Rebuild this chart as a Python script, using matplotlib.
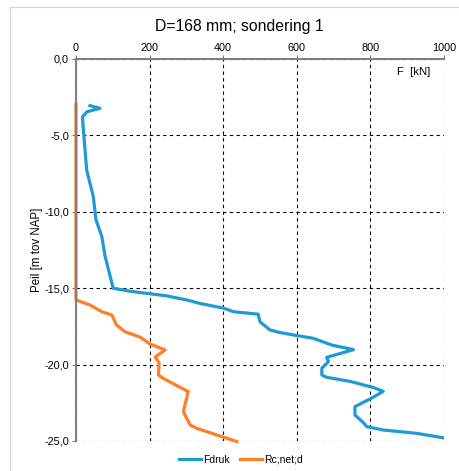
import matplotlib
matplotlib.use("Agg")
import matplotlib.pyplot as plt
from matplotlib.patches import Rectangle
from matplotlib.ticker import FuncFormatter

plt.rcParams['font.family'] = ['Liberation Sans', 'DejaVu Sans']

# Fdruk series (force kN, level m NAP)
fdruk_F = [38, 65, 30, 18, 18, 29, 47, 54, 70, 79, 101, 147, 246, 301, 337, 400, 428, 495, 500,
           527, 554, 600, 645, 695, 754, 681, 686, 668, 668, 681, 745, 808, 835, 803, 758, 758,
           781, 790, 835, 926, 1000]
fdruk_z = [-3.05, -3.23, -3.45, -3.78, -4.0, -7.27, -9.0, -10.5, -11.6, -12.9, -15.0, -15.2, -15.5,
           -15.77, -16.0, -16.3, -16.54, -16.7, -17.2, -17.73, -17.9, -18.1, -18.28, -18.72, -19.02,
           -19.53, -19.8, -20.24, -20.68, -20.83, -21.1, -21.5, -21.75, -22.2, -22.75, -23.3, -23.8,
           -24.06, -24.28, -24.5, -24.8]

# Rc;net;d series
rc_F = [0, 0, 38, 70, 97, 106, 110, 133, 174, 201, 242, 215, 226, 224, 237, 305, 296, 292, 310,
        328, 437]
rc_z = [-2.95, -15.77, -16.1, -16.54, -16.75, -17.19, -17.4, -17.85, -18.2, -18.65, -19.04,
        -19.5, -19.9, -20.68, -20.9, -21.77, -22.64, -23.08, -23.95, -24.17, -25.04]

x_ticks = [0, 200, 400, 600, 800, 1000]
y_ticks = [0, -5, -10, -15, -20, -25]

W, H = 459, 471
fig = plt.figure(figsize=(W / 100, H / 100), dpi=100)
fig.patches.append(Rectangle((10 / W, -0.1), 1.2, 1 - 7 / H + 0.1, transform=fig.transFigure,
                             fill=False, edgecolor='#d9d9d9', linewidth=1.0))

ax = fig.add_axes([76 / W, 1 - 441 / H, (444 - 76) / W, (441 - 59) / H])

blue = '#1E9BD7'
orange = '#FF7F27'
ax.plot(fdruk_F, fdruk_z, color=blue, lw=2.3, label='Fdruk', solid_joinstyle='round', clip_on=True)
ax.plot(rc_F, rc_z, color=orange, lw=2.3, label='Rc;net;d', solid_joinstyle='round', clip_on=False)

ax.set_xlim(0, 1000)
ax.set_ylim(-25, 0)
ax.xaxis.tick_top()
ax.set_xticks(x_ticks)
ax.set_yticks(y_ticks)
ax.yaxis.set_major_formatter(FuncFormatter(lambda v, p: f"{v:.1f}".replace('.', ',')))
ax.tick_params(axis='both', labelsize=7.8, length=3, color='#808080', width=0.8, pad=2)
ax.tick_params(axis='x', pad=1)

for s in ['right', 'bottom']:
    ax.spines[s].set_visible(False)
for s in ['left', 'top']:
    ax.spines[s].set_color('#808080')
    ax.spines[s].set_linewidth(1.5)

ax.grid(True, color='black', linestyle=(0, (3, 3)), linewidth=0.8)
ax.set_axisbelow(True)

ax.set_ylabel('Peil [m tov NAP]', fontsize=8.3, labelpad=1)
ax.text(0.962, 0.966, 'F  [kN]', transform=ax.transAxes, ha='right', va='center', fontsize=8.2)

fig.text(239 / W, 1 - 26 / H, 'D=168 mm; sondering 1', ha='center', va='center', fontsize=11.3)

leg = fig.legend(loc='center', bbox_to_anchor=(241 / W, 1 - 460 / H), ncol=2, frameon=False,
                 fontsize=7.5, handlelength=2.1, handletextpad=0.2, columnspacing=1.0)

fig.savefig('out.png', dpi=100)
